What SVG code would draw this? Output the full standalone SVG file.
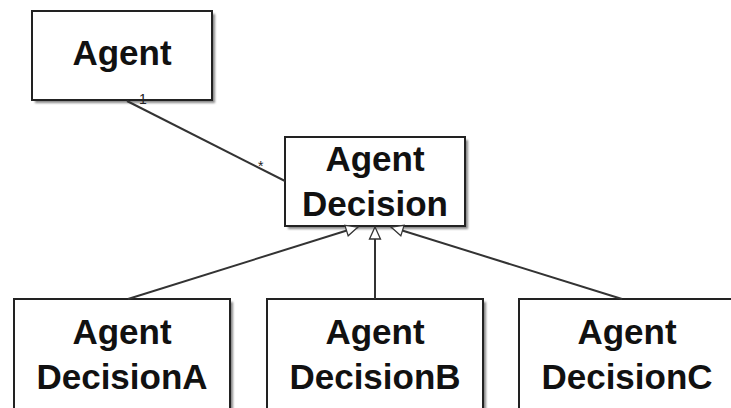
<svg xmlns="http://www.w3.org/2000/svg" width="731" height="408" viewBox="0 0 731 408">
  <defs>
    <filter id="shadow" x="-10%" y="-10%" width="130%" height="130%">
      <feGaussianBlur stdDeviation="1.2"/>
    </filter>
    <marker id="gen" viewBox="0 0 14 14" refX="13" refY="7" markerWidth="14" markerHeight="14" markerUnits="userSpaceOnUse" orient="auto">
      <path d="M1,1.5 L13,7 L1,12.5 Z" fill="#fff" stroke="#333" stroke-width="1.3"/>
    </marker>
    <style>
      .box { fill: #fff; stroke: #222; stroke-width: 2; }
      .shade { fill: #888; filter: url(#shadow); }
      .label { font-family: "Liberation Sans", Arial, sans-serif; font-weight: bold; font-size: 35px; fill: #111; text-anchor: middle; }
      .edge { fill: none; stroke: #333; stroke-width: 2; }
      .mult { font-family: "Liberation Sans", Arial, sans-serif; font-size: 14px; fill: #222; }
    </style>
  </defs>

  <rect width="731" height="408" fill="#fff"/>

  <g id="agent">
    <rect class="shade" x="35" y="14" width="180" height="89"/>
    <rect class="box" x="32" y="11" width="180" height="89"/>
    <text class="label" x="122" y="65">Agent</text>
  </g>

  <g id="agent-decision">
    <rect class="shade" x="288" y="140" width="180" height="89"/>
    <rect class="box" x="285" y="137" width="180" height="89"/>
    <text class="label" x="375" y="171">Agent</text>
    <text class="label" x="375" y="216">Decision</text>
  </g>

  <g id="agent-decision-a">
    <rect class="shade" x="17" y="302" width="216" height="120"/>
    <rect class="box" x="14" y="299" width="216" height="120"/>
    <text class="label" x="122" y="344">Agent</text>
    <text class="label" x="122" y="389">DecisionA</text>
  </g>

  <g id="agent-decision-b">
    <rect class="shade" x="270" y="302" width="216" height="120"/>
    <rect class="box" x="267" y="299" width="216" height="120"/>
    <text class="label" x="375" y="344">Agent</text>
    <text class="label" x="375" y="389">DecisionB</text>
  </g>

  <g id="agent-decision-c">
    <rect class="shade" x="522" y="302" width="216" height="120"/>
    <rect class="box" x="519" y="299" width="216" height="120"/>
    <text class="label" x="627" y="344">Agent</text>
    <text class="label" x="627" y="389">DecisionC</text>
  </g>

  <!-- association and generalization connectors, drawn over the box edges -->
  <g id="connectors">
    <line class="edge" x1="127" y1="101" x2="285" y2="181"/>
    <text class="mult" x="139" y="104">1</text>
    <text class="mult" x="258" y="171">*</text>
    <line class="edge" x1="128" y1="299" x2="358" y2="227" marker-end="url(#gen)"/>
    <line class="edge" x1="375" y1="299" x2="375" y2="227" marker-end="url(#gen)"/>
    <line class="edge" x1="622" y1="299" x2="391" y2="227" marker-end="url(#gen)"/>
  </g>
</svg>
